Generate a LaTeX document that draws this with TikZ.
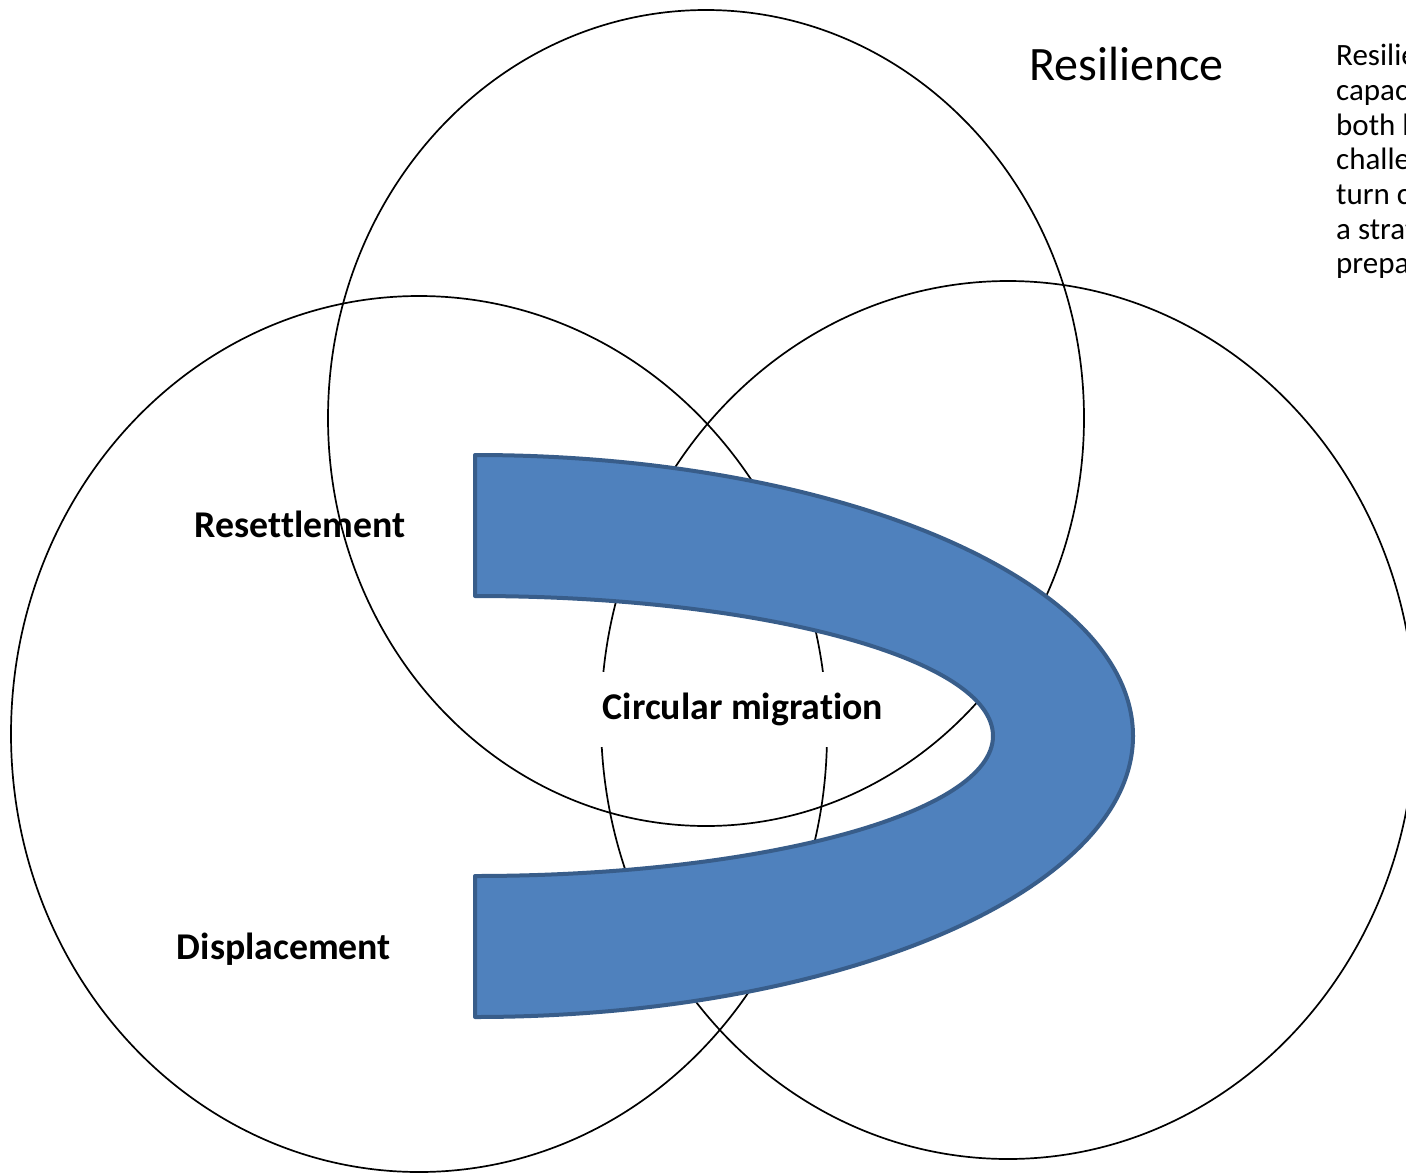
\documentclass[tikz,border=0pt]{standalone}
\usepackage{fontspec}
\setmainfont[Ligatures=NoCommon]{Carlito}
\definecolor{bandfill}{HTML}{4F81BD}
\definecolor{bandline}{HTML}{385D8A}
\begin{document}
\begin{tikzpicture}[x=1pt,y=1pt,
  ring/.style={draw=black,line width=1.7pt},
  band/.style={fill=bandfill,draw=bandline,line width=4pt,line join=round},
  lab/.style={font=\fontsize{37.8}{44}\selectfont\bfseries,inner sep=0pt}]
\clip (0,0) rectangle (1406,-1173);
\fill[white] (0,0) rectangle (1406,-1173);
% three overlapping circles
\draw[ring] (706,-418) ellipse [x radius=378, y radius=408];
\draw[ring] (419,-734) ellipse [x radius=408, y radius=438];
\draw[ring] (1008,-720) ellipse [x radius=407, y radius=439];
% curved band
\path[band] (475,-455) arc[start angle=90, end angle=-90, x radius=658, y radius=281]
  -- (475,-876) arc[start angle=-90, end angle=90, x radius=518, y radius=140] -- cycle;
% labels
\node[lab] (resettle) at (300,-524) {Resettlement};
\node[lab] (displace) at (284,-949) {Displacement};
\node[lab,fill=white,inner xsep=3pt,minimum height=75pt] (circ) at (743,-709) {Circular migration};
\node[font=\fontsize{48}{56}\selectfont,inner sep=0pt,anchor=base west] (title) at (1029,-80) {Resilience};
\node[font=\fontsize{31}{34.7}\selectfont,inner sep=0pt,anchor=north west,align=left] (desc) at (1336,-44)
  {Resilience is the\\capacity to adapt to\\both long-term\\challenges and to\\turn crises into\\a strategy of\\preparedness};
\end{tikzpicture}
\end{document}
